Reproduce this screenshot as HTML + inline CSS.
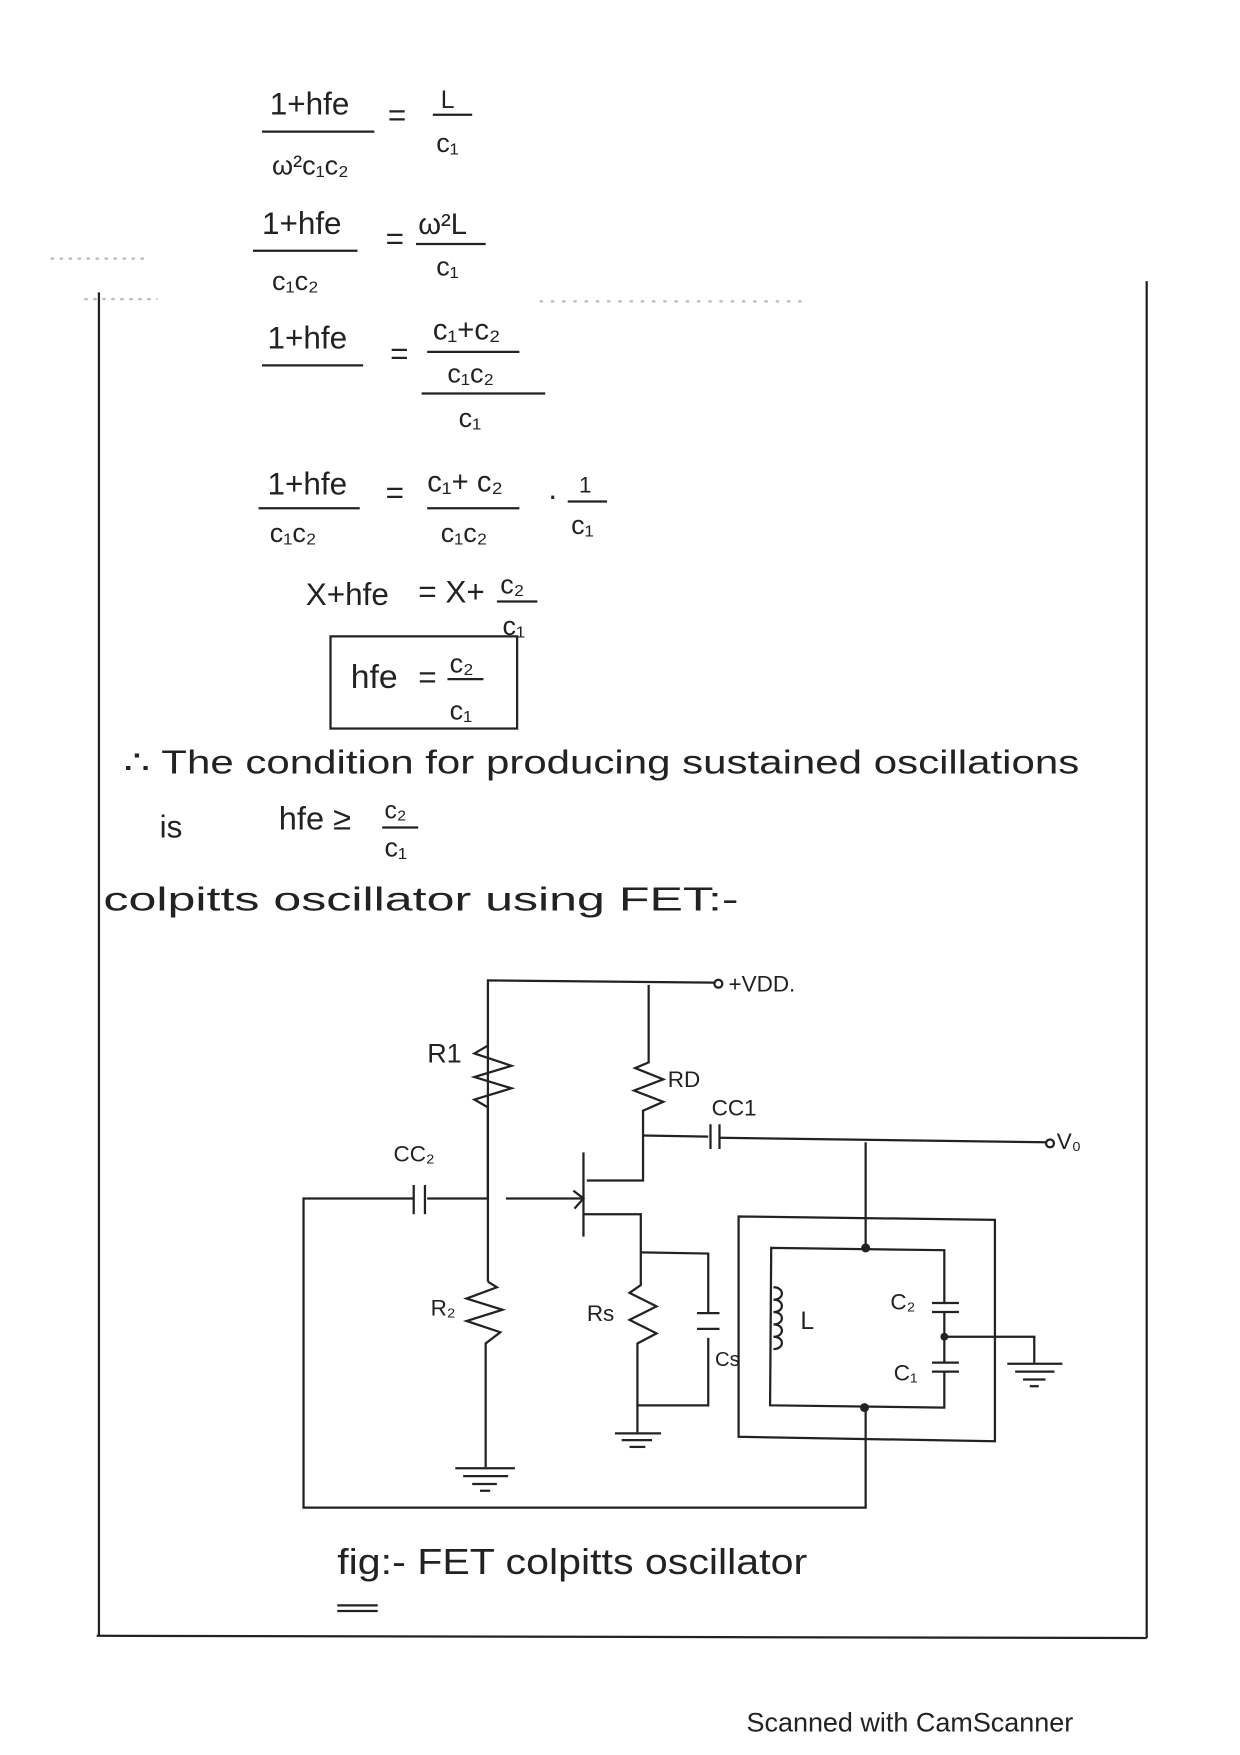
<!DOCTYPE html>
<html><head><style>
html,body{margin:0;padding:0;background:#fff;}
svg{display:block;}
text{font-family:"Liberation Sans",sans-serif;fill:#222;}
</style></head><body>
<svg width="1240" height="1755" viewBox="0 0 1103 1561" xmlns="http://www.w3.org/2000/svg">
<rect width="1103" height="1561" fill="#fff"/>
<g stroke="#222" stroke-width="2" fill="none">
<line x1="88" y1="260" x2="88" y2="1455"/>
<line x1="86" y1="1455" x2="1020" y2="1457"/>
<line x1="1020" y1="250" x2="1020" y2="1457"/>
<line x1="45" y1="230" x2="130" y2="230" stroke-dasharray="3 5" stroke="#bbb"/>
<line x1="75" y1="266" x2="140" y2="266" stroke-dasharray="3 5" stroke="#bbb"/>
<line x1="480" y1="268" x2="720" y2="268" stroke-dasharray="3 7" stroke="#bbb"/>
<line x1="233" y1="117" x2="333" y2="117"/>
<line x1="385" y1="102" x2="420" y2="102"/>
<line x1="225" y1="223" x2="318" y2="223"/>
<line x1="370" y1="217" x2="432" y2="217"/>
<line x1="233" y1="325" x2="323" y2="325"/>
<line x1="380" y1="313" x2="462" y2="313"/>
<line x1="375" y1="350" x2="485" y2="350"/>
<line x1="230" y1="452" x2="320" y2="452"/>
<line x1="380" y1="452" x2="462" y2="452"/>
<line x1="505" y1="446" x2="540" y2="446"/>
<line x1="442" y1="535" x2="478" y2="535"/>
<line x1="398" y1="604" x2="430" y2="604"/>
<rect x="294" y="566" width="166" height="82"/>
<line x1="340" y1="736" x2="372" y2="736"/>
<polyline points="434,1065 434,872 635,874"/>
<circle cx="639" cy="875" r="3.5"/>
<polyline points="434,925 434,930 422,937 455,948 422,958 455,968 422,978 434,985 434,1140"/>
<polyline points="434,1140 442,1145 415,1155 447,1165 415,1175 445,1185 432,1195 432,1305"/>
<line x1="405" y1="1306" x2="458" y2="1306"/><line x1="412" y1="1313" x2="452" y2="1313"/><line x1="420" y1="1320" x2="442" y2="1320"/><line x1="427" y1="1326" x2="436" y2="1326"/>
<polyline points="577,876 577,945 565,950 590,960 564,970 590,980 572,988 572,1050 522,1050"/>
<polyline points="572,1010 630,1011"/>
<line x1="632" y1="1000" x2="632" y2="1022"/><line x1="640" y1="1000" x2="640" y2="1022"/>
<polyline points="640,1012 930,1016"/>
<circle cx="934" cy="1017" r="3.5"/>
<line x1="519" y1="1025" x2="519" y2="1100"/>
<line x1="450" y1="1066" x2="519" y2="1066"/>
<polyline points="510,1059 519,1066 511,1075"/>
<polyline points="519,1080 570,1080 570,1143 560,1150 584,1162 560,1174 584,1186 567,1195 567,1250 630,1250 630,1190"/>
<polyline points="570,1114 630,1115 630,1168"/>
<line x1="620" y1="1168" x2="640" y2="1168"/><line x1="620" y1="1182" x2="640" y2="1182"/>
<line x1="567" y1="1250" x2="567" y2="1274"/>
<line x1="547" y1="1275" x2="588" y2="1275"/><line x1="553" y1="1281" x2="580" y2="1281"/><line x1="560" y1="1287" x2="574" y2="1287"/>
<polyline points="435,1066 380,1066"/>
<line x1="368" y1="1054" x2="368" y2="1080"/><line x1="378" y1="1054" x2="378" y2="1080"/>
<polyline points="368,1066 270,1066 270,1341 770,1341 770,1252"/>
<line x1="770" y1="1016" x2="770" y2="1110"/>
<circle cx="770" cy="1110" r="3" fill="#222"/>
<circle cx="769" cy="1252" r="3" fill="#222"/>
<polygon points="657,1082 885,1085 885,1282 657,1278"/>
<polyline points="840,1160 840,1112 686,1110 685,1250 840,1252 840,1220"/>
<line x1="829" y1="1159" x2="853" y2="1159"/><line x1="829" y1="1167" x2="853" y2="1167"/>
<line x1="840" y1="1167" x2="840" y2="1212"/>
<line x1="829" y1="1212" x2="853" y2="1212"/><line x1="829" y1="1220" x2="853" y2="1220"/>
<circle cx="840" cy="1189" r="2.5" fill="#222"/>
<polyline points="840,1189 920,1189 920,1212"/>
<line x1="896" y1="1213" x2="945" y2="1213"/><line x1="903" y1="1220" x2="938" y2="1220"/><line x1="910" y1="1227" x2="930" y2="1227"/><line x1="916" y1="1233" x2="924" y2="1233"/>
<path d="M688,1145 c10,0 10,11 0,11 c10,0 10,11 0,11 c10,0 10,11 0,11 c10,0 10,11 0,11 c10,0 10,11 0,11"/>
<line x1="300" y1="1428" x2="336" y2="1428"/><line x1="300" y1="1433" x2="336" y2="1433"/>
</g>
<g font-size="28">
<text x="240" y="102">1+hfe</text>
<text x="345" y="112">=</text>
<text x="392" y="96" font-size="22">L</text>
<text x="388" y="135" font-size="24">c₁</text>
<text x="242" y="155" font-size="24">ω²c₁c₂</text>
<text x="233" y="208">1+hfe</text>
<text x="343" y="222">=</text>
<text x="372" y="208" font-size="26">ω²L</text>
<text x="388" y="245" font-size="24">c₁</text>
<text x="242" y="258" font-size="24">c₁c₂</text>
<text x="238" y="310">1+hfe</text>
<text x="347" y="324">=</text>
<text x="385" y="302" font-size="26">c₁+c₂</text>
<text x="398" y="340" font-size="24">c₁c₂</text>
<text x="408" y="380" font-size="24">c₁</text>
<text x="238" y="440">1+hfe</text>
<text x="240" y="482" font-size="24">c₁c₂</text>
<text x="343" y="448">=</text>
<text x="380" y="437" font-size="26">c₁+ c₂</text>
<text x="392" y="482" font-size="24">c₁c₂</text>
<text x="487" y="450">·</text>
<text x="515" y="438" font-size="20">1</text>
<text x="508" y="475" font-size="24">c₁</text>
<text x="272" y="538">X+hfe</text>
<text x="372" y="536">= X+</text>
<text x="445" y="528" font-size="24">c₂</text>
<text x="447" y="565" font-size="24">c₁</text>
<text x="312" y="612" font-size="30">hfe</text>
<text x="372" y="612">=</text>
<text x="400" y="598" font-size="24">c₂</text>
<text x="400" y="640" font-size="24">c₁</text>
<text x="110" y="688" font-size="30" textLength="850" lengthAdjust="spacingAndGlyphs">∴ The condition for producing sustained oscillations</text>
<text x="142" y="745" font-size="28">is</text>
<text x="248" y="738" font-size="29">hfe ≥</text>
<text x="342" y="728" font-size="22">c₂</text>
<text x="342" y="762" font-size="24">c₁</text>
<text x="92" y="810" font-size="30" textLength="565" lengthAdjust="spacingAndGlyphs">colpitts oscillator using FET:-</text>
<text x="648" y="882" font-size="20">+VDD.</text>
<text x="380" y="945" font-size="24">R1</text>
<text x="594" y="967" font-size="20">RD</text>
<text x="633" y="992" font-size="20">CC1</text>
<text x="940" y="1022" font-size="20">V₀</text>
<text x="350" y="1033" font-size="20">CC₂</text>
<text x="383" y="1170" font-size="20">R₂</text>
<text x="522" y="1175" font-size="20">Rs</text>
<text x="636" y="1215" font-size="18">Cs</text>
<text x="712" y="1182" font-size="22">L</text>
<text x="792" y="1165" font-size="20">C₂</text>
<text x="795" y="1228" font-size="20">C₁</text>
<text x="300" y="1400" font-size="32" textLength="418" lengthAdjust="spacingAndGlyphs">fig:- FET colpitts oscillator</text>
<text x="664" y="1540" font-size="24" fill="#333">Scanned with CamScanner</text>
</g>
</svg>
</body></html>
